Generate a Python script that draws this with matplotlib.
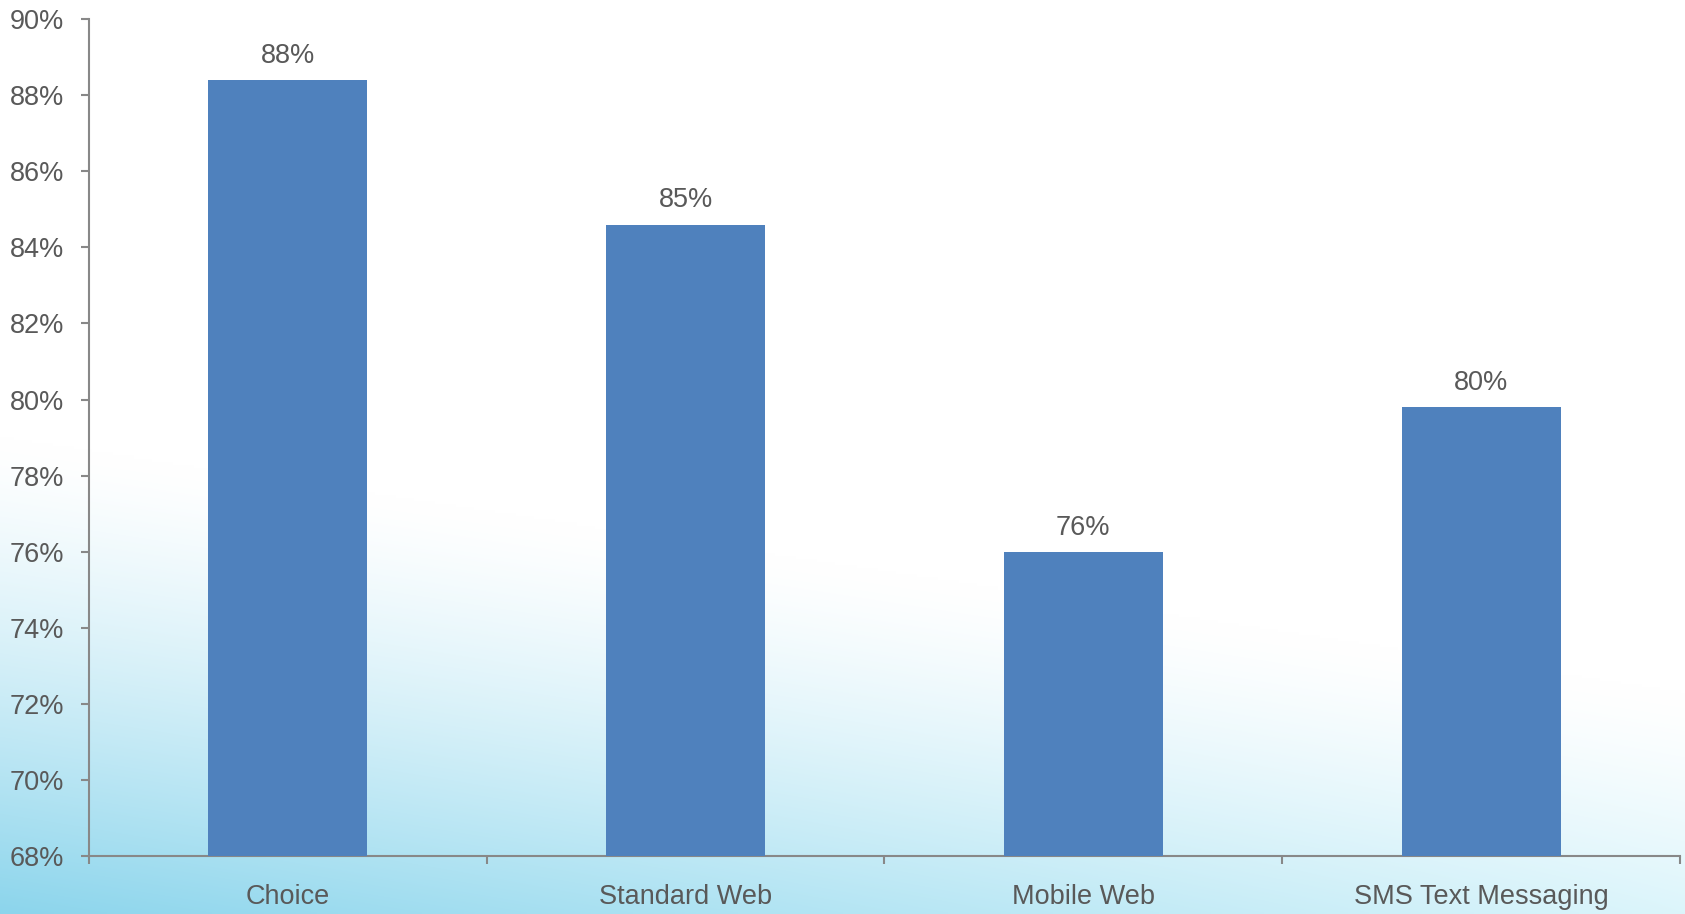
import numpy as np
import matplotlib.pyplot as plt
from matplotlib.ticker import PercentFormatter

# Survey result per channel (share of respondents)
channels = ["Choice", "Standard Web", "Mobile Web", "SMS Text Messaging"]
shares = [0.884, 0.846, 0.760, 0.798]

y_min, y_max = 0.68, 0.90
y_ticks = np.arange(0.68, 0.9001, 0.02)

bar_color = "#4F81BD"
text_color = "#595959"
axis_color = "#888888"

plt.rcParams['font.family'] = ['Liberation Sans', 'DejaVu Sans']

fig = plt.figure(figsize=(16.85, 9.14), dpi=100)

# soft blue wash rising from the bottom left corner
bg = fig.add_axes([0, 0, 1, 1], zorder=-10)
h, w = 300, 560
u = np.linspace(0, 1, w)[None, :]
v = np.linspace(1, 0, h)[:, None]
reach = 0.52 - 0.28 * u
s = np.clip(1 - v / reach, 0, 1) ** 1.3
c0 = np.array([0x8c, 0xd5, 0xec]) / 255
c1 = np.array([0xdc, 0xf5, 0xfb]) / 255
col = c0[None, None, :] * (1 - u[..., None]) + c1[None, None, :] * u[..., None]
img = 1 - s[..., None] * (1 - col)
bg.imshow(img, aspect='auto', extent=[0, 1, 0, 1], interpolation='bilinear')
bg.set_axis_off()

ax = fig.add_axes([0.0528, 0.0635, 0.9442, 0.9155])
ax.patch.set_alpha(0)

x = np.arange(len(channels))
bars = ax.bar(x, shares, width=0.4, color=bar_color, zorder=3)

for xi, val in zip(x, shares):
    ax.annotate(f"{val:.0%}", (xi, val), xytext=(0, 8), textcoords='offset points',
                ha='center', va='bottom', fontsize=19.5, color=text_color)

ax.set_xlim(-0.5, len(channels) - 0.5)
ax.set_ylim(y_min, y_max)
ax.set_yticks(y_ticks)
ax.yaxis.set_major_formatter(PercentFormatter(1.0, decimals=0))

ax.set_xticks(x)
ax.set_xticklabels(channels)
ax.set_xticks(np.arange(-0.5, len(channels)), minor=True)
ax.tick_params(axis='x', which='major', length=0, pad=20, labelsize=19.5, labelcolor=text_color)
ax.tick_params(axis='x', which='minor', length=6, width=1.5, color=axis_color)
ax.tick_params(axis='y', length=6, width=1.5, color=axis_color, pad=12,
               labelsize=19.5, labelcolor=text_color)

for side in ['top', 'right']:
    ax.spines[side].set_visible(False)
for side in ['left', 'bottom']:
    ax.spines[side].set_color(axis_color)
    ax.spines[side].set_linewidth(1.5)

fig.savefig('out.png', dpi=100)
